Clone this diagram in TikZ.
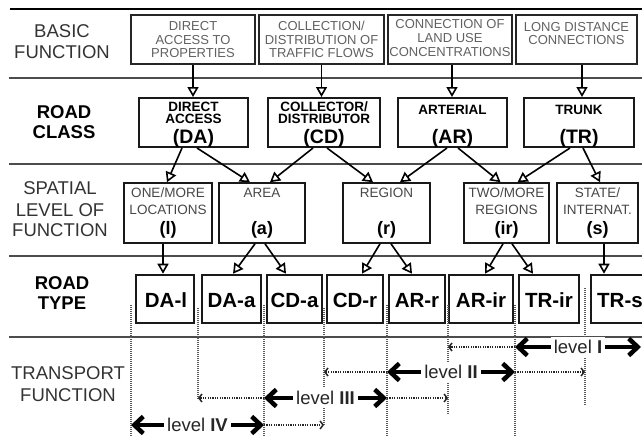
\documentclass[tikz,border=0pt]{standalone}
\usepackage{fontspec}
\setmainfont{Liberation Sans}
\usetikzlibrary{arrows.meta}
\begin{document}
\begin{tikzpicture}[x=1pt,y=-1pt,
  hline/.style={line width=1.3pt, draw=black!70},
  lblr/.style={font=\fontsize{18.5}{20}\selectfont, text=black!80, anchor=base, inner sep=0pt},
  lblb/.style={font=\bfseries\fontsize{18.5}{20}\selectfont, anchor=base, inner sep=0pt},
  bftxt/.style={font=\fontsize{13}{14}\selectfont, text=black!62, anchor=base, inner sep=0pt},
  rcsmall/.style={font=\bfseries\fontsize{13.5}{14}\selectfont, anchor=base, inner sep=0pt},
  rcbig/.style={font=\bfseries\fontsize{19.5}{20}\selectfont, anchor=base, inner sep=0pt},
  sltxt/.style={font=\fontsize{13.5}{14}\selectfont, text=black!72, anchor=base, inner sep=0pt},
  slbig/.style={font=\bfseries\fontsize{18}{18}\selectfont, anchor=base, inner sep=0pt},
  rttxt/.style={font=\bfseries\fontsize{20.5}{22}\selectfont, anchor=base, inner sep=0pt},
  bfbox/.style={draw=black!85, line width=1.4pt, inner sep=0pt, minimum height=49pt},
  rcbox/.style={draw=black!90, line width=2pt, inner sep=0pt, minimum height=49pt},
  slbox/.style={draw=black!90, line width=1.6pt, inner sep=0pt, minimum height=60pt},
  rtbox/.style={draw=black!90, line width=2.6pt, inner sep=0pt, minimum height=48pt},
  conn/.style={line width=1.6pt, -{Triangle[fill=white, length=10pt, width=11pt]}},
  vdot/.style={draw=black!65, line width=1.3pt, dash pattern=on 1pt off 1pt},
  darr/.style={draw=black!85, line width=1.5pt, dash pattern=on 1.2pt off 1.2pt, -{Straight Barb[length=3pt, width=8pt]}},
  thk/.style={line width=4.5pt, {Straight Barb[length=9pt, width=17pt]}-{Straight Barb[length=9pt, width=17pt]}},
  lvl/.style={font=\fontsize{18.5}{20}\selectfont, fill=white, inner sep=3pt, text=black!85}
]
\useasboundingbox (0,0) rectangle (642,436);
\clip (0,0) rectangle (642,436);

% horizontal separators
\draw[line width=2pt] (10,9) -- (642,9);
\draw[hline] (9,78) -- (642,78);
\draw[hline] (9,164) -- (642,164);
\draw[hline] (9,256) -- (642,256);
\draw[hline] (9,337) -- (642,337);

% left labels
\node[lblr] (lbA1) at (62,37.5) {BASIC};
\node[lblr] (lbA2) at (62,58.5) {FUNCTION};
\node[lblb] (lbB1) at (64,118.5) {ROAD};
\node[lblb] (lbB2) at (64,138.5) {CLASS};
\node[lblr] (lbC1) at (60,194.5) {SPATIAL};
\node[lblr] (lbC2) at (60,216.5) {LEVEL OF};
\node[lblr] (lbC3) at (60,236.5) {FUNCTION};
\node[lblb] (lbD1) at (62,289.5) {ROAD};
\node[lblb] (lbD2) at (62,309.5) {TYPE};
\node[lblr] (lbE1) at (68,379.5) {TRANSPORT};
\node[lblr] (lbE2) at (68,401.5) {FUNCTION};

% basic function boxes
\node[bfbox, minimum width=124pt] (bf1) at (193,39.5) {};
\node[bfbox, minimum width=125pt] (bf2) at (321.5,39.5) {};
\node[bfbox, minimum width=124pt] (bf3) at (450,39.5) {};
\node[bfbox, minimum width=121pt] (bf4) at (576.5,39.5) {};
\node[bftxt] (bf1a) at (193,30.5) {DIRECT};
\node[bftxt] (bf1b) at (193,44.5) {ACCESS TO};
\node[bftxt] (bf1c) at (193,57.5) {PROPERTIES};
\node[bftxt] (bf2a) at (321.5,30.5) {COLLECTION/};
\node[bftxt] (bf2b) at (321.5,44.5) {DISTRIBUTION OF};
\node[bftxt] (bf2c) at (321.5,57.5) {TRAFFIC FLOWS};
\node[bftxt] (bf3a) at (450,28.5) {CONNECTION OF};
\node[bftxt] (bf3b) at (450,42.5) {LAND USE};
\node[bftxt] (bf3c) at (450,56.5) {CONCENTRATIONS};
\node[bftxt] (bf4a) at (576.5,31.5) {LONG DISTANCE};
\node[bftxt] (bf4b) at (576.5,44.5) {CONNECTIONS};

% road class boxes
\node[rcbox, minimum width=109pt] (da) at (193.5,122.5) {};
\node[rcbox, minimum width=112pt] (cd) at (324,122.5) {};
\node[rcbox, minimum width=109pt] (ar) at (452.5,122.5) {};
\node[rcbox, minimum width=110pt] (tr) at (579,122.5) {};
\node[rcsmall] (da1) at (193.5,111.5) {DIRECT};
\node[rcsmall] (da2) at (193.5,123.5) {ACCESS};
\node[rcbig] (da3) at (193.5,143) {(DA)};
\node[rcsmall] (cd1) at (324,111.5) {COLLECTOR/};
\node[rcsmall] (cd2) at (324,123.5) {DISTRIBUTOR};
\node[rcbig] (cd3) at (324,143) {(CD)};
\node[rcsmall] (ar1) at (452.5,114.5) {ARTERIAL};
\node[rcbig] (ar3) at (452.5,143) {(AR)};
\node[rcsmall] (tr1) at (579,114.5) {TRUNK};
\node[rcbig] (tr3) at (579,143) {(TR)};

% spatial level boxes
\node[slbox, minimum width=88pt] (sl) at (168,213) {};
\node[slbox, minimum width=86pt] (sa) at (262,213) {};
\node[slbox, minimum width=87pt] (sr) at (386.5,213) {};
\node[slbox, minimum width=85pt] (sir) at (506.5,213) {};
\node[slbox, minimum width=81pt] (ss) at (597.5,213) {};
\node[sltxt] (sl1) at (168,197.5) {ONE/MORE};
\node[sltxt] (sl2) at (168,214.5) {LOCATIONS};
\node[slbig] (sl3) at (168,234) {(l)};
\node[sltxt] (sa1) at (262,197.5) {AREA};
\node[slbig] (sa3) at (262,234) {(a)};
\node[sltxt] (sr1) at (386.5,197.5) {REGION};
\node[slbig] (sr3) at (386.5,234) {(r)};
\node[sltxt] (sir1) at (506.5,197.5) {TWO/MORE};
\node[sltxt] (sir2) at (506.5,214.5) {REGIONS};
\node[slbig] (sir3) at (506.5,234) {(ir)};
\node[sltxt] (ss1) at (597.5,197.5) {STATE/};
\node[sltxt] (ss2) at (597.5,214.5) {INTERNAT.};
\node[slbig] (ss3) at (597.5,234) {(s)};

% road type boxes
\node[rtbox, minimum width=58pt] (t1) at (165,299) {};
\node[rtbox, minimum width=59pt] (t2) at (231.5,299) {};
\node[rtbox, minimum width=55pt] (t3) at (294.5,299) {};
\node[rtbox, minimum width=56pt] (t4) at (355,299) {};
\node[rtbox, minimum width=56pt] (t5) at (417,299) {};
\node[rtbox, minimum width=64pt] (t6) at (481,299) {};
\node[rtbox, minimum width=60pt] (t7) at (549,299) {};
\node[rtbox, minimum width=70pt] (t8) at (626,299) {};
\node[rttxt] (t1t) at (166,307) {DA-l};
\node[rttxt] (t2t) at (231.5,307) {DA-a};
\node[rttxt] (t3t) at (294.5,307) {CD-a};
\node[rttxt] (t4t) at (355,307) {CD-r};
\node[rttxt] (t5t) at (417,307) {AR-r};
\node[rttxt] (t6t) at (481,307) {AR-ir};
\node[rttxt] (t7t) at (549,307) {TR-ir};
\node[rttxt, anchor=base west] (t8t) at (597,307) {TR-s};

% connectors: basic function -> road class
\draw[conn] (bf1.south) -- (bf1.south |- da.north);
\draw[conn] (bf2.south) -- (bf2.south |- cd.north);
\draw[conn] ([xshift=2pt]bf3.south) -- ([xshift=2pt]bf3.south |- ar.north);
\draw[conn] ([xshift=5.5pt]bf4.south) -- ([xshift=5.5pt]bf4.south |- tr.north);

% road class -> spatial level
\draw[conn] ([xshift=-11.5pt]da.south) -- ([xshift=-1pt]sl.north);
\draw[conn] ([xshift=3.5pt]da.south) -- ([xshift=-12pt]sa.north);
\draw[conn] ([xshift=-11pt]cd.south) -- ([xshift=8pt]sa.north);
\draw[conn] ([xshift=3pt]cd.south) -- ([xshift=-13.5pt]sr.north);
\draw[conn] ([xshift=-5.5pt]ar.south) -- ([xshift=13.5pt]sr.north);
\draw[conn] ([xshift=5.5pt]ar.south) -- ([xshift=-6pt]sir.north);
\draw[conn] ([xshift=-9pt]tr.south) -- ([xshift=11pt]sir.north);
\draw[conn] ([xshift=4pt]tr.south) -- ([xshift=2.5pt]ss.north);

% spatial level -> road type
\draw[conn] ([xshift=-5pt]sl.south) -- ([xshift=-5pt]sl.south |- t1.north);
\draw[conn] ([xshift=-7pt]sa.south) -- ([xshift=1.5pt]t2.north);
\draw[conn] ([xshift=3pt]sa.south) -- ([xshift=-8.5pt]t3.north);
\draw[conn] ([xshift=-6.5pt]sr.south) -- ([xshift=7pt]t4.north);
\draw[conn] ([xshift=4.5pt]sr.south) -- ([xshift=-5pt]t5.north);
\draw[conn] ([xshift=-3.5pt]sir.south) -- ([xshift=4pt]t6.north);
\draw[conn] ([xshift=5.5pt]sir.south) -- ([xshift=-16pt]t7.north);
\draw[conn] ([xshift=6.5pt]ss.south) -- ([xshift=6.5pt]ss.south |- t8.north);

% vertical dotted guide lines
\coordinate (v1t) at (131,305); \coordinate (v1b) at (131,436);
\coordinate (v2t) at (198,308); \coordinate (v2b) at (198,400);
\coordinate (v3t) at (264,305); \coordinate (v3b) at (264,436);
\coordinate (v4t) at (324,308); \coordinate (v4b) at (324,425);
\coordinate (v5t) at (387,305); \coordinate (v5b) at (387,436);
\coordinate (v6t) at (448,305); \coordinate (v6b) at (448,415);
\coordinate (v7t) at (515,305); \coordinate (v7b) at (515,436);
\coordinate (v8t) at (585,288); \coordinate (v8b) at (585,405);
\foreach \v in {1,...,8} {\draw[vdot] (v\v t) -- (v\v b);}

% level rows
\coordinate (r1) at (0,347);
\coordinate (r2) at (0,372);
\coordinate (r3) at (0,398);
\coordinate (r4) at (0,425);
\coordinate (rend) at (641,347);

% level I
\draw[darr] (v7t |- r1) -- (v6t |- r1);
\draw[thk] (v7t |- r1) -- node[lvl] (lv1) {level \textbf{I}} (rend);
% level II
\draw[darr] (v5t |- r2) -- (v4t |- r2);
\draw[thk] (v5t |- r2) -- node[lvl] (lv2) {level \textbf{II}} (v7t |- r2);
\draw[darr] (v7t |- r2) -- (v8t |- r2);
% level III
\draw[darr] (v3t |- r3) -- (v2t |- r3);
\draw[thk] (v3t |- r3) -- node[lvl] (lv3) {level \textbf{III}} (v5t |- r3);
\draw[darr] (v5t |- r3) -- (v6t |- r3);
% level IV
\draw[thk] (v1t |- r4) -- node[lvl] (lv4) {level \textbf{IV}} (v3t |- r4);
\draw[darr] (v3t |- r4) -- (v4t |- r4);
\end{tikzpicture}
\end{document}
